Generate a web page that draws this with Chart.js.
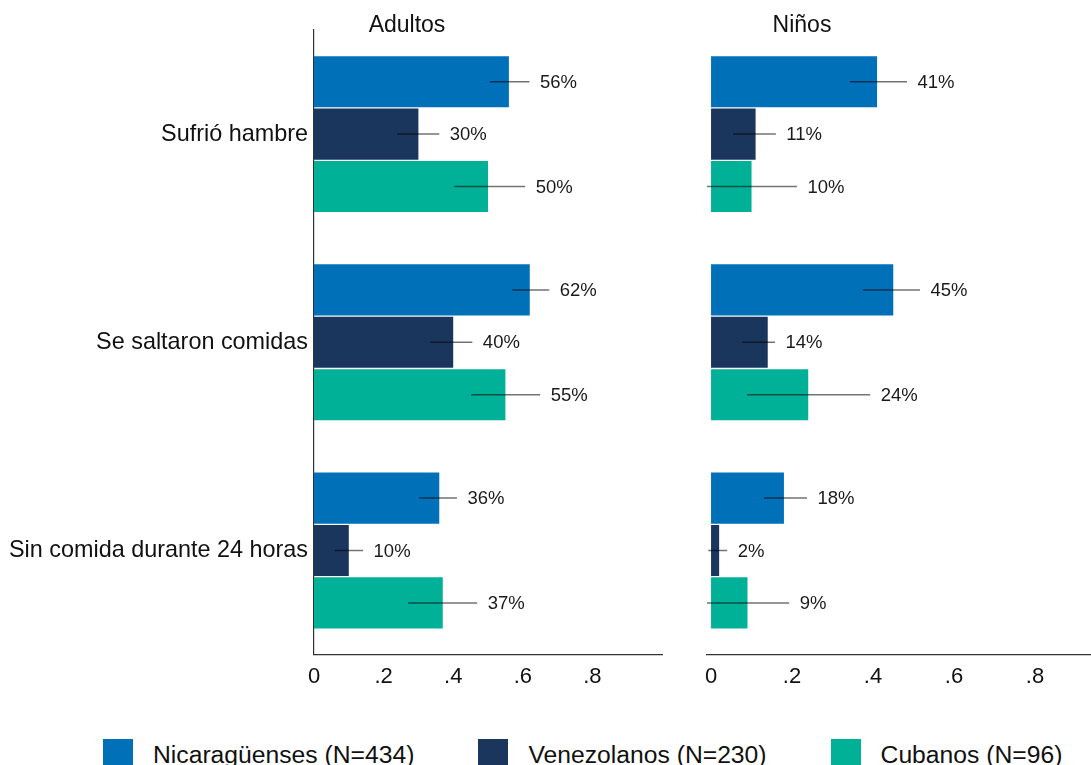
<!DOCTYPE html>
<html>
<head>
<meta charset="utf-8">
<script src="https://cdn.jsdelivr.net/npm/chart.js@4.4.1/dist/chart.umd.min.js"></script>
<style>
  html, body { margin: 0; padding: 0; background: #fff; overflow: hidden; }
  body { width: 1091px; height: 765px; position: relative; font-family: "Liberation Sans", Arial, sans-serif; color: #111; }
  #adultCv { position: absolute; left: 0; top: 0; }
  #kidCv   { position: absolute; left: 690px; top: 0; }
  .ttl { position: absolute; top: 10px; width: 200px; text-align: center; font-size: 23px; line-height: 28px; }
  #legend { position: absolute; left: 103px; top: 739px; display: flex; white-space: nowrap; }
  #legend .item { display: flex; align-items: flex-start; margin-right: 64px; }
  #legend .sw { width: 30px; height: 30px; margin-right: 20px; }
  #legend .lbl { font-size: 24.7px; line-height: 30px; padding-top: 1px; }
</style>
</head>
<body>
<canvas id="adultCv" width="690" height="700"></canvas>
<canvas id="kidCv" width="450" height="700"></canvas>
<div class="ttl" style="left:307px">Adultos</div>
<div class="ttl" style="left:702px">Niños</div>
<div id="legend"></div>

<script>
// data ----------------------------------------------------------
const categories = ["Sufrió hambre", "Se saltaron comidas", "Sin comida durante 24 horas"];
const groups     = ["Nicaragüenses (N=434)", "Venezolanos (N=230)", "Cubanos (N=96)"];
const colors     = ["#0070b8", "#1b365d", "#00b197"];
const xTicks     = [0, 0.2, 0.4, 0.6, 0.8];

// adults: share + 95% CI
const adultNic   = [0.56, 0.62, 0.36];
const adultNicLo = [0.506, 0.570, 0.302];
const adultNicHi = [0.619, 0.676, 0.411];
const adultVen   = [0.30, 0.40, 0.10];
const adultVenLo = [0.239, 0.334, 0.060];
const adultVenHi = [0.360, 0.455, 0.141];
const adultCub   = [0.50, 0.55, 0.37];
const adultCubLo = [0.403, 0.452, 0.270];
const adultCubHi = [0.607, 0.650, 0.469];

// children
const kidNic   = [0.41, 0.45, 0.18];
const kidNicLo = [0.343, 0.375, 0.131];
const kidNicHi = [0.484, 0.516, 0.237];
const kidVen   = [0.11, 0.14, 0.02];
const kidVenLo = [0.054, 0.077, -0.007];
const kidVenHi = [0.160, 0.158, 0.040];
const kidCub   = [0.10, 0.24, 0.09];
const kidCubLo = [-0.010, 0.089, -0.010];
const kidCubHi = [0.212, 0.393, 0.193];

Chart.defaults.font.family = '"Liberation Sans", Arial, sans-serif';
Chart.defaults.color = "#111";

// error bars + value labels -------------------------------------
const ciPlugin = {
  id: "ci",
  afterDatasetsDraw(chart) {
    const ctx = chart.ctx;
    const xs = chart.scales.x;
    chart.data.datasets.forEach((ds, d) => {
      const meta = chart.getDatasetMeta(d);
      meta.data.forEach((bar, i) => {
        const x1 = xs.getPixelForValue(ds.lo[i]);
        const x2 = xs.getPixelForValue(ds.hi[i]);
        ctx.save();
        ctx.strokeStyle = "rgba(0,0,0,0.55)";
        ctx.lineWidth = 1.5;
        ctx.beginPath();
        ctx.moveTo(x1, bar.y);
        ctx.lineTo(x2, bar.y);
        ctx.stroke();
        ctx.fillStyle = "#1a1a1a";
        ctx.font = '18.5px "Liberation Sans", Arial, sans-serif';
        ctx.textBaseline = "middle";
        ctx.fillText(Math.round(ds.data[i] * 100) + "%", x2 + 10.5, bar.y + 1);
        ctx.restore();
      });
    });
  }
};

function makeSets(vals, los, his) {
  return vals.map((v, k) => ({
    label: groups[k],
    data: v,
    lo: los[k],
    hi: his[k],
    backgroundColor: colors[k],
    borderWidth: 0,
    categoryPercentage: 0.755,
    barPercentage: 0.975
  }));
}

function tickLabel(v) {
  return v === 0 ? "0" : String(v).replace(/^0/, "");
}

function makeChart(canvas, sets, showY, pad, xMin) {
  return new Chart(canvas, {
    type: "bar",
    data: { labels: categories, datasets: sets },
    plugins: [ciPlugin],
    options: {
      indexAxis: "y",
      responsive: false,
      animation: false,
      layout: { padding: pad },
      plugins: { legend: { display: false }, tooltip: { enabled: false } },
      scales: {
        x: {
          min: xMin, max: 1,
          grid: { display: false, drawTicks: false },
          border: { display: true, color: "#333", width: 1.2 },
          afterBuildTicks: s => { s.ticks = xTicks.map(v => ({ value: v })); },
          ticks: { padding: 9, font: { size: 22 }, color: "#111", callback: v => tickLabel(v) }
        },
        y: {
          display: showY,
          grid: { display: false, drawTicks: false },
          border: { display: true, color: "#333", width: 1.2 },
          afterFit: s => { if (showY) s.width = 314; },
          ticks: { padding: 6, font: { size: 23.4 }, color: "#111" }
        }
      }
    }
  });
}

// ----------------------------------------------------------------
makeChart(document.getElementById("adultCv"),
  makeSets([adultNic, adultVen, adultCub], [adultNicLo, adultVenLo, adultCubLo], [adultNicHi, adultVenHi, adultCubHi]),
  true, { left: 0, right: 28, top: 30, bottom: 1 }, 0);

const kidLows = [kidNicLo, kidVenLo, kidCubLo];
makeChart(document.getElementById("kidCv"),
  makeSets([kidNic, kidVen, kidCub], kidLows, [kidNicHi, kidVenHi, kidCubHi]),
  false, { left: 17, right: 24, top: 30, bottom: 1 }, Math.min(...kidLows.flat()));

// legend ---------------------------------------------------------
const legendEl = document.getElementById("legend");
groups.forEach((g, k) => {
  const item = document.createElement("div");
  item.className = "item";
  item.innerHTML = `<div class="sw" style="background:${colors[k]}"></div><div class="lbl">${g}</div>`;
  legendEl.appendChild(item);
});
</script>
</body>
</html>
